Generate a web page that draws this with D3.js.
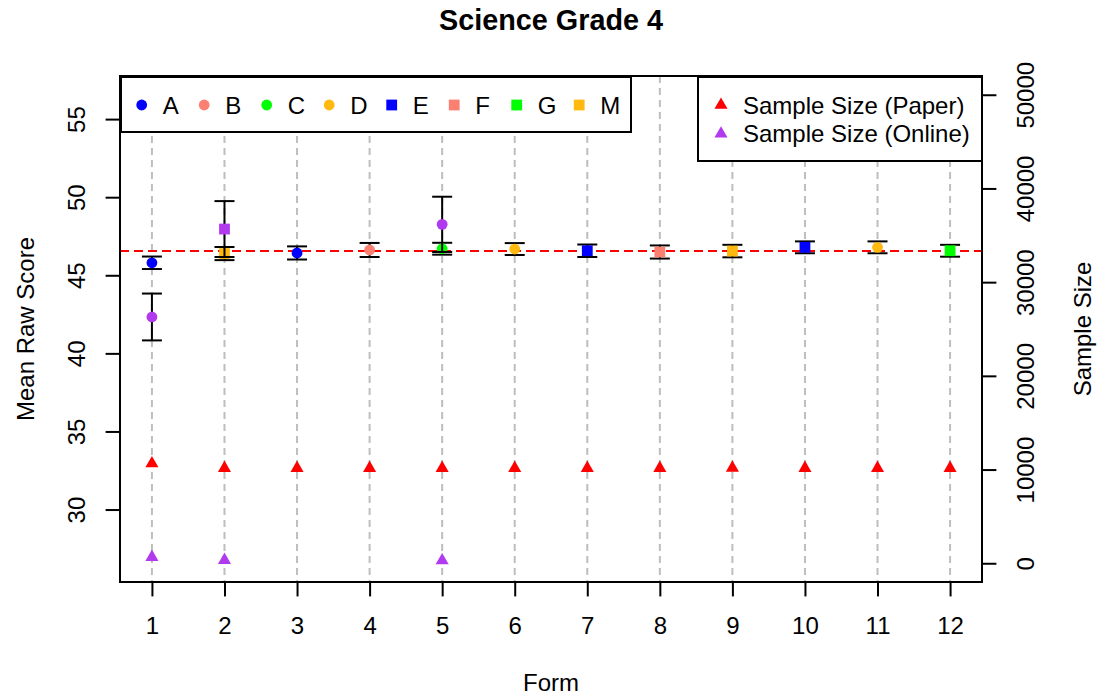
<!DOCTYPE html>
<html>
<head>
<meta charset="utf-8">
<script src="https://cdn.jsdelivr.net/npm/d3@7"></script>
<style>
  html, body { margin: 0; padding: 0; background: #fff; }
  svg { display: block; font-family: "Liberation Sans", Arial, Helvetica, sans-serif; }
</style>
</head>
<body>
<svg id="chart" width="1099" height="700"></svg>
<script>
// Forms and the form-type code each one belongs to
const forms = [1, 2, 3, 4, 5, 6, 7, 8, 9, 10, 11, 12];
const formTypes = ["A", "M", "A", "B", "C", "D", "E", "F", "M", "E", "D", "G"];

// Mean raw score (paper) with error half-widths
const paperMean = [45.80, 46.39, 46.43, 46.62, 46.70, 46.68, 46.57, 46.49, 46.55, 46.79, 46.79, 46.57];
const paperErr  = [0.40, 0.42, 0.42, 0.45, 0.38, 0.38, 0.40, 0.42, 0.40, 0.38, 0.38, 0.38];

// Mean raw score (online), only some forms
const onlineMean = [42.33, 47.96, null, null, 48.26, null, null, null, null, null, null, null];
const onlineErr  = [1.50, 1.79, null, null, 1.77, null, null, null, null, null, null, null];

// Sample sizes
const paperN  = [10650, 10150, 10150, 10150, 10150, 10150, 10150, 10150, 10180, 10150, 10150, 10150];
const onlineN = [650, 330, null, null, 300, null, null, null, null, null, null, null];

// Overall mean reference line
const overallMean = 46.55;

// Legend entries
const typeLabels = ["A", "B", "C", "D", "E", "F", "G", "M"];
const typeColors = ["#0000FF", "#FA8072", "#00FF00", "#FFB90F", "#0000FF", "#FA8072", "#00FF00", "#FFB90F"];
const typeShapes = ["circle", "circle", "circle", "circle", "square", "square", "square", "square"];
const sizeLabels = ["Sample Size (Paper)", "Sample Size (Online)"];
const sizeColors = ["#FF0000", "#B23AEE"];
const onlineColor = "#B23AEE";

// Axis ticks
const scoreTicks = [30, 35, 40, 45, 50, 55];
const sizeTicks = [0, 10000, 20000, 30000, 40000, 50000];

// ---- layout ----
const svg = d3.select("#chart");
const plotL = 120, plotR = 982, plotT = 76, plotB = 582;
const lineH = 28.8;
const fs = 24;

const x = d3.scaleLinear().domain([0.56, 12.44]).range([plotL, plotR]);
const y = d3.scaleLinear().domain([25.36, 57.76]).range([plotB, plotT]);
const y2 = d3.scaleLinear().domain([-2000, 52000]).range([plotB, plotT]);

const typeIndex = t => typeLabels.indexOf(t);
const colorOf = t => typeColors[typeIndex(t)];
const shapeOf = t => typeShapes[typeIndex(t)];

const circleR = 5.4;
const squareS = 10.8;
const triArea = 74;

function drawMarker(g, shape, cx, cy, color) {
  if (shape === "circle") {
    g.append("circle").attr("cx", cx).attr("cy", cy).attr("r", circleR).attr("fill", color);
  } else if (shape === "square") {
    g.append("rect").attr("x", cx - squareS / 2).attr("y", cy - squareS / 2)
      .attr("width", squareS).attr("height", squareS).attr("fill", color);
  } else {
    g.append("path").attr("d", d3.symbol(d3.symbolTriangle, triArea)())
      .attr("transform", `translate(${cx},${cy})`).attr("fill", color);
  }
}

// ---- grid and reference ----
svg.append("g").selectAll("line").data(forms).join("line")
  .attr("x1", d => x(d)).attr("x2", d => x(d))
  .attr("y1", plotT).attr("y2", plotB)
  .attr("stroke", "#BEBEBE").attr("stroke-width", 2).attr("stroke-dasharray", "7,5");

svg.append("line")
  .attr("x1", plotL).attr("x2", plotR)
  .attr("y1", y(overallMean)).attr("y2", y(overallMean))
  .attr("stroke", "#FF0000").attr("stroke-width", 2).attr("stroke-dasharray", "9,5");

// ---- error bars and means ----
const marks = svg.append("g");
function errorBar(cx, m, e) {
  const g = marks.append("g").attr("stroke", "#000").attr("stroke-width", 2);
  g.append("line").attr("x1", cx).attr("x2", cx).attr("y1", y(m - e)).attr("y2", y(m + e));
  g.append("line").attr("x1", cx - 10).attr("x2", cx + 10).attr("y1", y(m - e)).attr("y2", y(m - e));
  g.append("line").attr("x1", cx - 10).attr("x2", cx + 10).attr("y1", y(m + e)).attr("y2", y(m + e));
}
forms.forEach((f, i) => {
  errorBar(x(f), paperMean[i], paperErr[i]);
  drawMarker(marks, shapeOf(formTypes[i]), x(f), y(paperMean[i]), colorOf(formTypes[i]));
});
forms.forEach((f, i) => {
  if (onlineMean[i] == null) return;
  errorBar(x(f), onlineMean[i], onlineErr[i]);
  drawMarker(marks, shapeOf(formTypes[i]), x(f), y(onlineMean[i]), onlineColor);
});

// ---- sample sizes ----
forms.forEach((f, i) => {
  drawMarker(marks, "triangle", x(f), y2(paperN[i]), sizeColors[0]);
  if (onlineN[i] != null) drawMarker(marks, "triangle", x(f), y2(onlineN[i]), sizeColors[1]);
});

// ---- axes ----
function styleAxis(g) {
  g.select(".domain").remove();
  g.selectAll(".tick line").attr("stroke", "#000").attr("stroke-width", 2);
  g.selectAll(".tick text").attr("fill", "#000").attr("font-size", fs)
    .attr("font-family", "Liberation Sans, Arial, sans-serif");
}

const xAxis = svg.append("g").attr("transform", `translate(0,${plotB})`)
  .call(d3.axisBottom(x).tickValues(forms).tickSize(14.4).tickFormat(d3.format("d")));
styleAxis(xAxis);
xAxis.selectAll(".tick text").attr("y", 1.8 * lineH).attr("dy", 0).attr("text-anchor", "middle");

const yAxis = svg.append("g").attr("transform", `translate(${plotL},0)`)
  .call(d3.axisLeft(y).tickValues(scoreTicks).tickSize(14.4).tickFormat(d3.format("d")));
styleAxis(yAxis);
yAxis.selectAll(".tick text").attr("x", null).attr("dy", 0).attr("text-anchor", "middle")
  .attr("transform", `translate(${-1.2 * lineH},0) rotate(-90)`);

const y2Axis = svg.append("g").attr("transform", `translate(${plotR},0)`)
  .call(d3.axisRight(y2).tickValues(sizeTicks).tickSize(14.4).tickFormat(d3.format("d")));
styleAxis(y2Axis);
y2Axis.selectAll(".tick text").attr("x", null).attr("dy", 0).attr("text-anchor", "middle")
  .attr("transform", `translate(${1.8 * lineH},0) rotate(-90)`);

// ---- plot frame ----
svg.append("rect").attr("x", plotL).attr("y", plotT)
  .attr("width", plotR - plotL).attr("height", plotB - plotT)
  .attr("fill", "none").attr("stroke", "#000").attr("stroke-width", 2);

// ---- titles ----
svg.append("text").attr("x", (plotL + plotR) / 2).attr("y", 30)
  .attr("text-anchor", "middle").attr("font-size", 28.8).attr("font-weight", "bold")
  .text("Science Grade 4");
svg.append("text").attr("x", (plotL + plotR) / 2).attr("y", plotB + 3.8 * lineH)
  .attr("text-anchor", "middle").attr("font-size", fs).text("Form");
svg.append("text").attr("text-anchor", "middle").attr("font-size", fs)
  .attr("transform", `translate(${plotL - 3.0 * lineH},${(plotT + plotB) / 2}) rotate(-90)`)
  .text("Mean Raw Score");
svg.append("text").attr("text-anchor", "middle").attr("font-size", fs)
  .attr("transform", `translate(${plotR + 3.8 * lineH},${(plotT + plotB) / 2}) rotate(-90)`)
  .text("Sample Size");

// ---- legend: form types ----
const leg1 = svg.append("g");
leg1.append("rect").attr("x", plotL + 1).attr("y", plotT + 1).attr("width", 510).attr("height", 55)
  .attr("fill", "#fff").attr("stroke", "#000").attr("stroke-width", 2);
typeLabels.forEach((t, i) => {
  const sx = 141.7 + i * 62.5;
  drawMarker(leg1, typeShapes[i], sx, 105, typeColors[i]);
  leg1.append("text").attr("x", sx + 21).attr("y", 105 + 8.6)
    .attr("font-size", fs).text(t);
});

// ---- legend: sample sizes ----
const leg2 = svg.append("g");
leg2.append("rect").attr("x", 698).attr("y", plotT + 1).attr("width", plotR - 698).attr("height", 84)
  .attr("fill", "#fff").attr("stroke", "#000").attr("stroke-width", 2);
sizeLabels.forEach((t, i) => {
  const cy = 105 + i * lineH;
  drawMarker(leg2, "triangle", 721, cy, sizeColors[i]);
  leg2.append("text").attr("x", 743).attr("y", cy + 8.6).attr("font-size", fs).text(t);
});
</script>
</body>
</html>
